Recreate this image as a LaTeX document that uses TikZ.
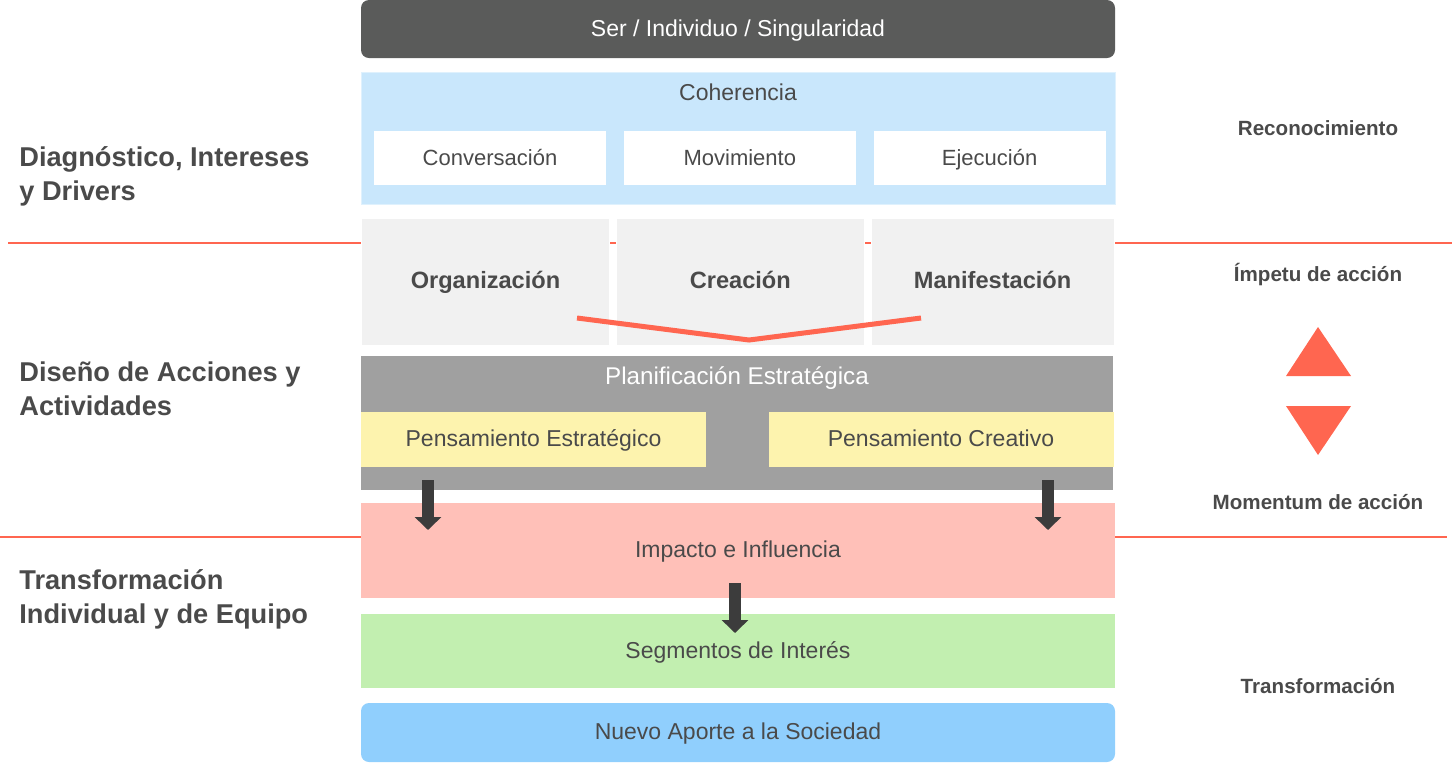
\documentclass[tikz,border=0pt]{standalone}
\usepackage{fontspec}
\setmainfont{Liberation Sans}
\usetikzlibrary{positioning}
\usetikzlibrary{arrows.meta}
\definecolor{darkbar}{HTML}{5A5B5A}
\definecolor{coherblue}{HTML}{C9E7FC}
\definecolor{cellgrey}{HTML}{F1F1F1}
\definecolor{plangrey}{HTML}{A0A0A0}
\definecolor{thinkyellow}{HTML}{FDF3AE}
\definecolor{impactpink}{HTML}{FFC0B8}
\definecolor{segmgreen}{HTML}{C2EFB0}
\definecolor{aporteblue}{HTML}{90CFFD}
\definecolor{linered}{HTML}{FF6650}
\definecolor{arrowgrey}{HTML}{3C3C3C}
\definecolor{txtgrey}{HTML}{4A4A4A}
\tikzset{
capcentre/.style={
text height=0.72em,
text depth=0pt},
band/.style={
capcentre,
minimum width=377pt,
inner sep=0pt,
text=txtgrey,
font=\fontsize{11.5}{14}\selectfont},
subbox/.style={
capcentre,
fill=white,
minimum width=116pt,
minimum height=27pt,
inner sep=0pt,
text=txtgrey,
font=\fontsize{11}{13}\selectfont},
cell/.style={
capcentre,
fill=cellgrey,
draw=white,
minimum width=124pt,
minimum height=63.5pt,
inner sep=0pt,
text=txtgrey,
font=\fontsize{11.8}{14}\selectfont\bfseries},
thinkbox/.style={
capcentre,
fill=thinkyellow,
minimum width=172.5pt,
minimum height=27.5pt,
inner sep=0pt,
text=txtgrey,
font=\fontsize{11.5}{14}\selectfont},
sidelabel/.style={
anchor=west,
align=left,
inner sep=0pt,
text=txtgrey,
font=\fontsize{13.6}{17}\selectfont\bfseries},
stagelabel/.style={
capcentre,
inner sep=0pt,
text=txtgrey,
font=\fontsize{10.3}{12}\selectfont\bfseries},
sepline/.style={
draw=linered,
line width=1.3pt},
blockarrow/.style={
draw=arrowgrey,
line width=6pt,
-{Triangle[width=13pt,length=6.5pt]}}}

\begin{document}
\begin{tikzpicture}[x=0.5pt, y=-0.5pt]
\useasboundingbox (0,0) rectangle (1456,762);
% separator lines
\coordinate (s1l) at (8,243);
\coordinate (s1r) at (1452,243);
\coordinate (s2l) at (0,537);
\coordinate (s2r) at (1447,537);
\draw[sepline] (s1l) -- (s1r);
\draw[sepline] (s2l) -- (s2r);
% main column
\node[band, fill=darkbar, rounded corners=4pt, minimum height=29pt, text=white] (ser) at (738,29) {Ser / Individuo / Singularidad};
\node[band, fill=coherblue, draw=coherblue!60, minimum height=66pt] (coher) at (738,138) {};
\node[band] (coherT) at (738,93) {Coherencia};
\node[subbox] (conv) at (490,158) {Conversación};
\node[subbox, right=8.5pt of conv] (mov) {Movimiento};
\node[subbox, right=8.5pt of mov] (ejec) {Ejecución};
\node[cell] (org) at (485.5,281.5) {Organización};
\node[cell, right=3pt of org] (crea) {Creación};
\node[cell, right=3pt of crea, minimum width=121.5pt] (manif) {Manifestación};
\node[band, fill=plangrey, minimum width=376pt, minimum height=67pt] (plan) at (737,423) {};
\node[band, text=white, font=\fontsize{12.1}{14}\selectfont] (planT) at (737,377) {Planificación Estratégica};
\node[thinkbox] (pestr) at (533.5,439.5) {Pensamiento Estratégico};
\node[thinkbox] (pcrea) at (941,439.5) {Pensamiento Creativo};
\node[band, fill=impactpink, minimum height=47.5pt] (impact) at (738,550.5) {Impacto e Influencia};
\node[band, fill=segmgreen, minimum height=37pt] (segm) at (738,651) {Segmentos de Interés};
\node[band, fill=aporteblue, rounded corners=4pt, minimum height=29.5pt] (aporte) at (738,732.5) {Nuevo Aporte a la Sociedad};
% V line
\coordinate (vl) at (577,318);
\coordinate (vm) at (749,340);
\coordinate (vr) at (921,318);
\draw[linered, line width=2.5pt] (vl) -- (vm) -- (vr);
% arrows
\coordinate (a1s) at (428,480);
\coordinate (a1e) at (428,530);
\coordinate (a2s) at (1048,480);
\coordinate (a2e) at (1048,530);
\coordinate (a3s) at (735,583);
\coordinate (a3e) at (735,633);
\draw[blockarrow] (a1s) -- (a1e);
\draw[blockarrow] (a2s) -- (a2e);
\draw[blockarrow] (a3s) -- (a3e);
% left labels
\node[sidelabel] (diag) at (19,176) {Diagnóstico, Intereses\\y Drivers};
\node[sidelabel] (dise) at (19,389) {Diseño de Acciones y\\Actividades};
\node[sidelabel] (trans) at (19,599) {Transformación\\Individual y de Equipo};
% right labels
\node[stagelabel] (recon) at (1318,128) {Reconocimiento};
\node[stagelabel] (impetu) at (1318,274) {Ímpetu de acción};
\node[stagelabel] (moment) at (1318,502) {Momentum de acción};
\node[stagelabel] (transf) at (1318,686) {Transformación};
\fill[linered] (1318,327) -- (1351,376) -- (1286,376) -- cycle;
\fill[linered] (1286,406) -- (1351,406) -- (1318,455) -- cycle;
\end{tikzpicture}
\end{document}
